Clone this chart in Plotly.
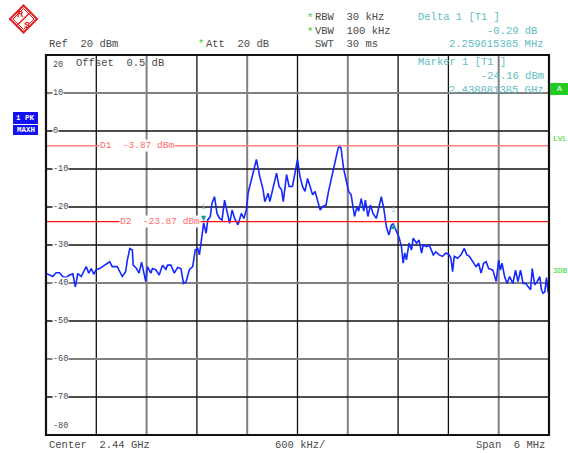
import plotly.graph_objects as go

# ---------------- data ----------------
# frequency offset from centre (2.44 GHz), kHz
freq_offset_khz = [
    -3000, -2960, -2920, -2880, -2840, -2800, -2760, -2720, -2680, -2650,
    -2620, -2580, -2540, -2520, -2490, -2460, -2430, -2400, -2360, -2300,
    -2240, -2210, -2150, -2090, -2050, -2030, -2000, -1970, -1960, -1920,
    -1890, -1860, -1840, -1810, -1790, -1750, -1730, -1690, -1650, -1610,
    -1570, -1550, -1510, -1470, -1430, -1390, -1360, -1330, -1290, -1250,
    -1220, -1190, -1170, -1150, -1130, -1119, -1090, -1070, -1040, -1020,
    -990, -960, -930, -900, -870, -840, -810, -780, -750, -710,
    -670, -640, -610, -590, -550, -510, -490, -450, -410, -390,
    -350, -330, -300, -250, -220, -190, -170, -130, -100, -60,
    -20, 0, 30, 60, 90, 120, 150, 180, 210, 240,
    270, 300, 340, 370, 400, 440, 480, 500, 520, 550,
    580, 610, 640, 680, 710, 730, 760, 790, 810, 840,
    870, 900, 940, 970, 1000, 1030, 1060, 1090, 1120, 1141,
    1180, 1210, 1240, 1260, 1280, 1300, 1330, 1360, 1380, 1420,
    1450, 1480, 1500, 1540, 1570, 1600, 1620, 1650, 1690, 1730,
    1770, 1810, 1830, 1850, 1870, 1910, 1950, 1990, 2020, 2050,
    2090, 2130, 2160, 2190, 2220, 2250, 2280, 2330, 2370, 2400,
    2420, 2440, 2470, 2500, 2530, 2570, 2600, 2630, 2660, 2690,
    2720, 2750, 2780, 2800, 2830, 2860, 2890, 2910, 2930, 2950,
    2970, 2990,
]
level_dbm = [
    -37.4, -37.9, -38.3, -37.3, -37.3, -38.3, -38.6, -37.9, -37.6, -41.0,
    -37.5, -38.3, -36.6, -35.7, -37.4, -36.2, -37.7, -36.5, -36.2, -35.3,
    -34.4, -35.7, -35.7, -38.3, -37.0, -34.0, -30.9, -31.3, -35.3, -36.2,
    -37.4, -34.5, -36.5, -39.6, -35.7, -37.4, -36.2, -36.5, -37.9, -35.3,
    -36.4, -35.3, -35.3, -37.4, -35.9, -36.2, -40.1, -39.7, -36.5, -35.7,
    -31.3, -30.9, -32.6, -29.6, -26.1, -24.16, -26.9, -23.4, -22.5, -19.0,
    -17.3, -21.7, -23.0, -23.4, -18.2, -21.7, -24.3, -20.8, -23.0, -24.7,
    -21.7, -23.0, -20.8, -16.4, -12.9, -9.4, -7.5, -12.0, -15.5, -18.6,
    -16.4, -18.6, -15.5, -11.1, -14.6, -15.5, -18.6, -11.5, -14.6, -14.6,
    -9.9, -7.5, -12.0, -14.6, -15.9, -12.5, -14.6, -16.8, -15.9, -18.6,
    -20.8, -19.9, -19.5, -15.9, -12.9, -8.5, -5.0, -3.7, -4.6, -9.9,
    -13.4, -15.9, -16.8, -22.5, -19.9, -21.1, -17.8, -21.1, -18.2, -22.5,
    -19.5, -21.7, -23.0, -20.2, -17.3, -20.5, -25.2, -27.4, -24.8, -24.45,
    -26.5, -27.9, -30.4, -34.8, -32.1, -33.9, -29.5, -31.3, -28.2, -29.5,
    -28.7, -32.1, -30.0, -30.4, -30.0, -31.3, -32.6, -31.8, -32.6, -33.0,
    -32.1, -32.6, -33.5, -37.0, -33.0, -33.5, -32.6, -30.9, -32.6, -33.0,
    -34.4, -35.7, -34.8, -37.4, -34.8, -34.4, -36.2, -36.6, -39.6, -34.0,
    -36.6, -34.8, -38.3, -40.1, -38.3, -40.1, -36.6, -39.6, -36.6, -40.1,
    -40.1, -41.0, -41.8, -36.2, -40.5, -39.6, -38.3, -41.8, -42.7, -42.3,
    -38.6, -42.5,
]

grid_freq_khz = [-2400, -1800, -1200, -600, 0, 600, 1200, 1800, 2400]
grid_freq_gray = [False, True, False, True, False, True, False, False, True]
grid_level_dbm = [10, 0, -10, -20, -30, -40, -50, -60, -70]
grid_level_gray = [True, False, False, False, False, True, False, True, False]
ytick_values = [20, 10, 0, -10, -20, -30, -40, -50, -60, -70, -80]
ytick_labels = ["20", "10", "0", "-10", "-20", "-30", "-40", "-50", "-60", "-70", "-80"]

d1_dbm = -3.87
d2_dbm = -23.87
marker1_khz = -1118.6
marker1_dbm = -24.16
delta1_khz = marker1_khz + 2259.615385
delta1_dbm = marker1_dbm - 0.29

# ---------------- layout helpers ----------------
W, H = 568, 453
L, R, T, B = 46, 549, 55, 435
def px(x):
    return (x - L) / (R - L)
def py(y):
    return (B - y) / (B - T)

MONO = "Liberation Mono, DejaVu Sans Mono, monospace"
GRAY = "#4a4a4a"
TEAL = "#62bcc2"
GREEN = "#2bd62b"

fig = go.Figure()
fig.add_trace(go.Scatter(
    x=freq_offset_khz, y=level_dbm, mode="lines",
    line=dict(color="#1428ff", width=1.6), hoverinfo="skip"))

shapes = []
for f, g in zip(grid_freq_khz, grid_freq_gray):
    shapes.append(dict(type="line", xref="x", yref="paper", x0=f, x1=f, y0=0, y1=1,
                       line=dict(color="#808080" if g else "#111111", width=2 if g else 1.3),
                       layer="below"))
for v, g in zip(grid_level_dbm, grid_level_gray):
    shapes.append(dict(type="line", xref="paper", yref="y", x0=0, x1=1, y0=v, y1=v,
                       line=dict(color="#808080" if g else "#111111", width=2 if g else 1.3),
                       layer="below"))
# display lines
shapes.append(dict(type="line", xref="paper", yref="y", x0=0, x1=1, y0=d1_dbm, y1=d1_dbm,
                   line=dict(color="#ff8080", width=1.5)))
shapes.append(dict(type="line", xref="paper", yref="y", x0=0, x1=1, y0=d2_dbm, y1=d2_dbm,
                   line=dict(color="#ff1010", width=1.3)))
# frame
shapes.append(dict(type="rect", xref="paper", yref="paper", x0=0, x1=1, y0=0, y1=1,
                   line=dict(color="#111111", width=2.2)))
# R&S logo diamond
cx, cy, s = 23.5, 19, 13.5
shapes.append(dict(type="path", xref="paper", yref="paper",
                   path=f"M {px(cx)},{py(cy - s)} L {px(cx + s)},{py(cy)} L {px(cx)},{py(cy + s)} L {px(cx - s)},{py(cy)} Z",
                   line=dict(color="#e02020", width=2)))
shapes.append(dict(type="path", xref="paper", yref="paper",
                   path=f"M {px(cx)},{py(cy - s + 3)} L {px(cx + s - 3)},{py(cy)} L {px(cx)},{py(cy + s - 3)} L {px(cx - s + 3)},{py(cy)} Z",
                   line=dict(color="#e02020", width=1)))
shapes.append(dict(type="line", xref="paper", yref="paper",
                   x0=px(cx + 6), y0=py(cy - 6), x1=px(cx - 6), y1=py(cy + 6),
                   line=dict(color="#e02020", width=1.5)))
# status boxes
def box(x0, x1, y0, y1, color):
    shapes.append(dict(type="rect", xref="paper", yref="paper",
                       x0=px(x0), x1=px(x1), y0=py(y1), y1=py(y0),
                       fillcolor=color, line=dict(width=0)))
box(13, 38, 112, 124, "#1010f0")
box(13, 38, 125, 135, "#1010f0")
box(550, 568, 83, 95, "#22cc22")

ann = []
def text(t, x, y, anchor="left", color=GRAY, size=10.5, bg=None, family=MONO):
    d = dict(text=t, xref="paper", yref="paper", x=px(x), y=py(y), xanchor=anchor,
             yanchor="middle", showarrow=False, font=dict(family=family, size=size, color=color))
    if bg:
        d["bgcolor"] = bg
        d["borderpad"] = 0
    ann.append(d)

text("Ref  20 dBm", 47, 44)
text("*", 196, 44, color=GREEN)
text("Att  20 dB", 204, 44)
text("*", 305, 18, color=GREEN)
text("RBW  30 kHz", 313, 17)
text("*", 305, 32, color=GREEN)
text("VBW  100 kHz", 313, 31)
text("SWT  30 ms", 313, 44)
text("Delta 1 [T1 ]", 416, 17, color=TEAL)
text("-0.29 dB", 539, 31, anchor="right", color=TEAL)
text("2.259615385 MHz", 546, 44, anchor="right", color=TEAL)
text("Marker 1 [T1 ]", 416, 62, color=TEAL)
text("-24.16 dBm", 546, 76, anchor="right", color=TEAL)
text("2.438881385 GHz", 546, 90, anchor="right", color=TEAL)
text("Offset  0.5 dB", 74, 63)
text("Center  2.44 GHz", 47, 445)
text("600 kHz/", 300, 445, anchor="center")
text("Span  6 MHz", 547, 445, anchor="right")
text("LVL", 551, 138, color=GREEN, size=8)
text("3DB", 551, 270, color=GREEN, size=8)
text("A", 559, 89, anchor="center", color="white", size=8)
text("<b>1 PK</b>", 25.5, 118, anchor="center", color="white", size=7.5)
text("<b>MAXH</b>", 25.5, 130, anchor="center", color="white", size=7.5)
text("<b>R</b>", 20, 14, anchor="center", color="#e02020", size=9, family="Liberation Sans")
text("<b>S</b>", 27, 25, anchor="center", color="#e02020", size=9, family="Liberation Sans")

# y tick labels inside plot
for v, lab in zip(ytick_values, ytick_labels):
    d = dict(text=lab, xref="paper", yref="y", x=px(52), y=v, xanchor="left",
             showarrow=False, font=dict(family=MONO, size=8.5, color=GRAY),
             bgcolor="white", borderpad=0)
    if v == ytick_values[0]:
        d.update(yanchor="top", yshift=-4)
        d.pop("bgcolor")
    elif v == ytick_values[-1]:
        d.update(yanchor="bottom", yshift=3)
    else:
        d.update(yanchor="middle")
    ann.append(d)

# display line labels
ann.append(dict(text="D1  -3.87 dBm", xref="paper", yref="y", x=px(99), y=d1_dbm,
                xanchor="left", yanchor="middle", showarrow=False, bgcolor="white", borderpad=0,
                font=dict(family=MONO, size=9.5, color="#ff6a6a")))
ann.append(dict(text="D2  -23.87 dBm", xref="paper", yref="y", x=px(119), y=d2_dbm,
                xanchor="left", yanchor="middle", showarrow=False, bgcolor="white", borderpad=0,
                font=dict(family=MONO, size=9.5, color="#ff6a6a")))

# markers
ann.append(dict(text="▼", x=marker1_khz, y=marker1_dbm, xref="x", yref="y",
                xanchor="center", yanchor="bottom", showarrow=False, yshift=-3,
                font=dict(size=9, color="#1f9a9a")))
ann.append(dict(text="1", x=marker1_khz, y=marker1_dbm, xref="x", yref="y",
                xanchor="center", yanchor="bottom", showarrow=False, yshift=10,
                font=dict(family=MONO, size=8, color="#8fd3d3")))
ann.append(dict(text="▲", x=delta1_khz, y=delta1_dbm, xref="x", yref="y",
                xanchor="center", yanchor="middle", showarrow=False, yshift=-2,
                font=dict(size=9, color="#1f9a9a")))
ann.append(dict(text="1", x=delta1_khz, y=delta1_dbm, xref="x", yref="y",
                xanchor="center", yanchor="bottom", showarrow=False, yshift=8,
                font=dict(family=MONO, size=8, color="#8fd3d3")))

fig.update_layout(
    width=W, height=H,
    margin=dict(l=L, r=W - R, t=T, b=H - B, pad=0),
    paper_bgcolor="white", plot_bgcolor="white",
    showlegend=False,
    xaxis=dict(range=[-3000, 3000], showgrid=False, zeroline=False,
               showticklabels=False, ticks="", fixedrange=True),
    yaxis=dict(range=[-80, 20], showgrid=False, zeroline=False,
               showticklabels=False, ticks="", fixedrange=True),
    shapes=shapes, annotations=ann,
)

fig.write_html("out.html", config={"displayModeBar": False},
               post_script="document.body.style.margin='0';document.body.style.overflow='hidden';")
